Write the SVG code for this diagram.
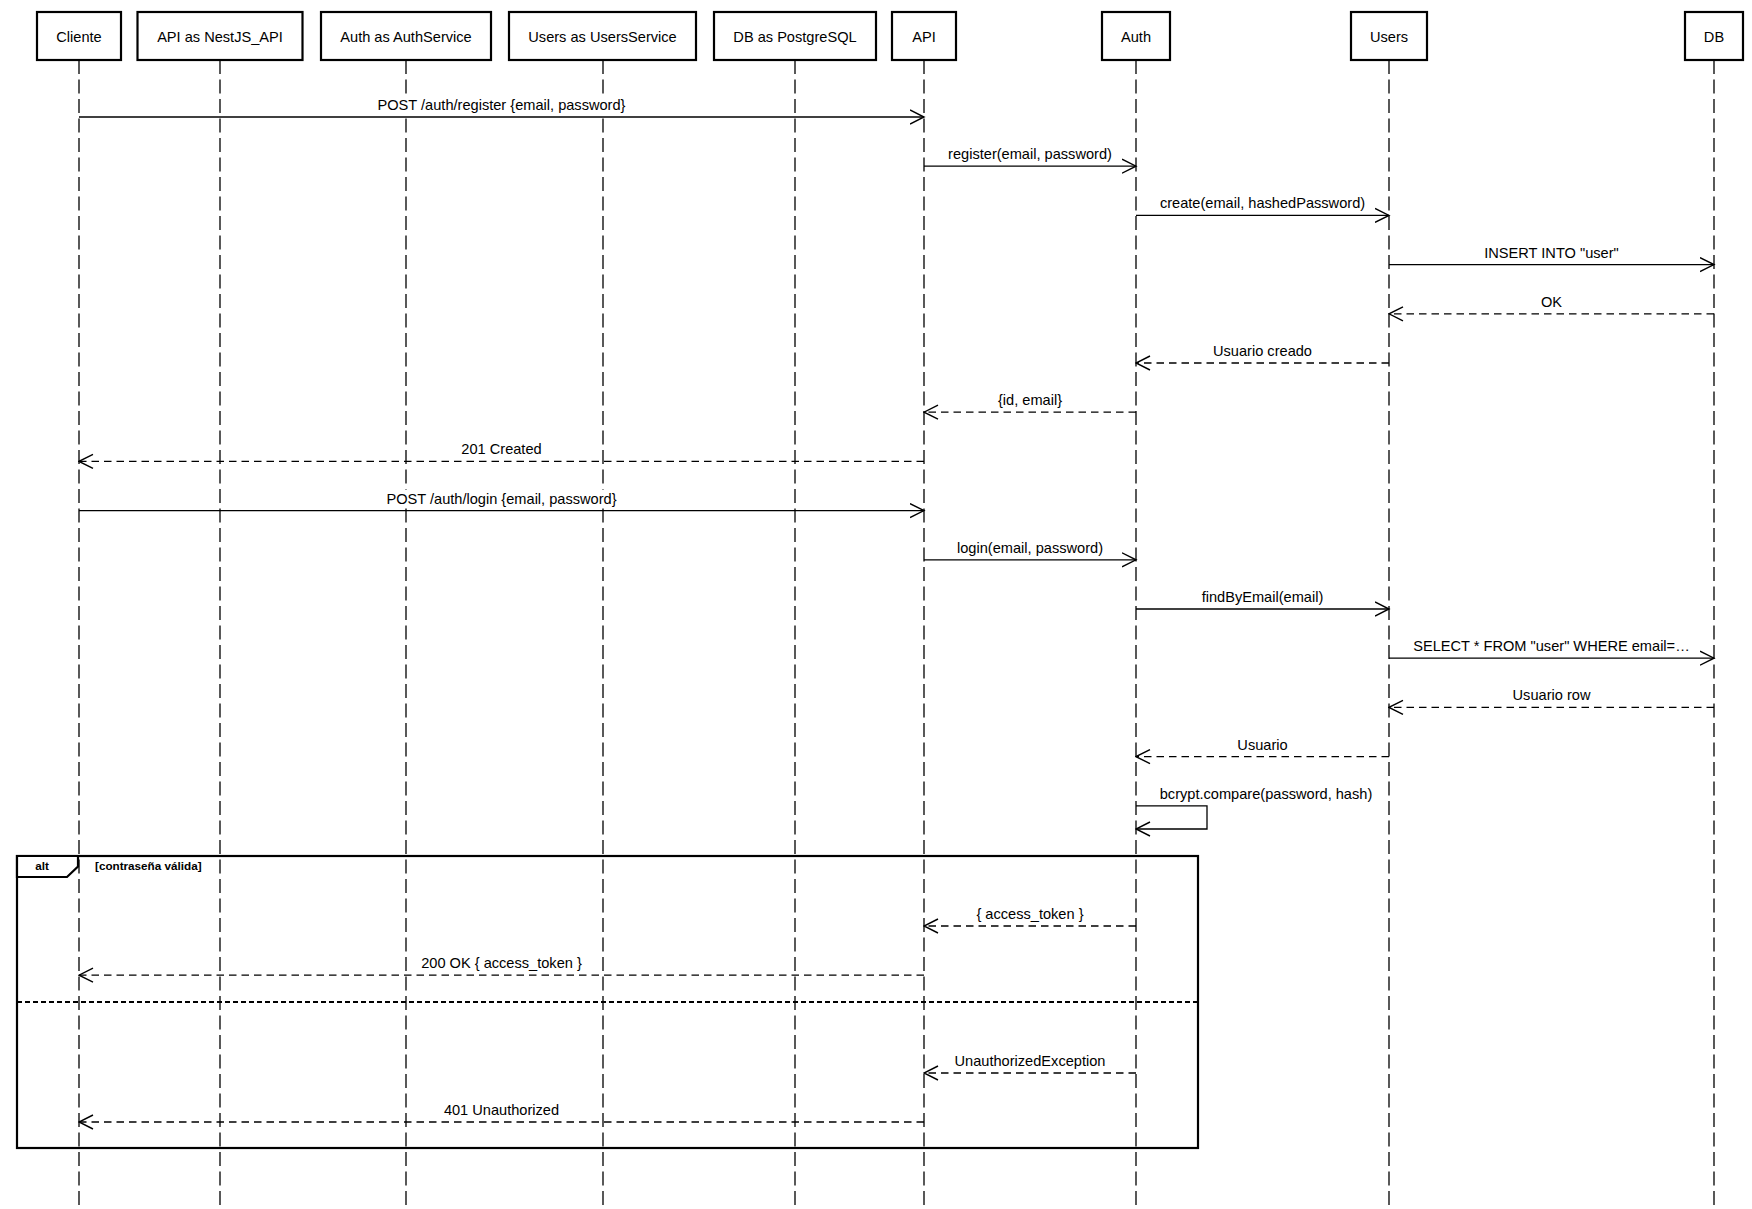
<svg xmlns="http://www.w3.org/2000/svg" width="1752" height="1209" viewBox="0 0 1752 1209">
<style>
  text { font-family: "Liberation Sans", Arial, Helvetica, sans-serif; font-size: 14.6px; fill: #000; }
  .box { fill: #fff; stroke: #000; stroke-width: 2.2; }
  .life { stroke: #000; stroke-width: 1.3; stroke-dasharray: 14 5.5; fill: none; }
  .msg { stroke: #000; stroke-width: 1.3; fill: none; marker-end: url(#open); }
  .ret { stroke: #000; stroke-width: 1.3; fill: none; stroke-dasharray: 7.5 5; marker-end: url(#open); }
  .lbg { fill: #fff; }
  .lbl { text-anchor: middle; }
  .hdr { text-anchor: middle; }
  .frame { fill: none; stroke: #000; stroke-width: 2.2; }
  .tab { fill: #fff; stroke: #000; stroke-width: 2.2; }
  .div { stroke: #000; stroke-width: 2; stroke-dasharray: 5 3; }
  .ftxt { font-size: 11.7px; font-weight: bold; }
</style>
<defs>
  <marker id="open" viewBox="0 0 16 16" refX="14.5" refY="8" markerWidth="16" markerHeight="16" markerUnits="userSpaceOnUse" orient="auto">
    <path d="M0.5,1 L14.5,8 L0.5,15" fill="none" stroke="#000" stroke-width="1.4"/>
  </marker>
</defs>
<rect x="0" y="0" width="1752" height="1209" fill="#fff"/>

<g id="participants">
  <g id="p-cliente">
    <line class="life" x1="79" y1="60" x2="79" y2="1209"/>
    <rect class="box" x="37" y="12" width="84" height="48"/>
    <text class="hdr" x="79" y="41.5">Cliente</text>
  </g>
  <g id="p-api-nestjs">
    <line class="life" x1="220" y1="60" x2="220" y2="1209"/>
    <rect class="box" x="137.5" y="12" width="165" height="48"/>
    <text class="hdr" x="220" y="41.5">API as NestJS_API</text>
  </g>
  <g id="p-auth-service">
    <line class="life" x1="406" y1="60" x2="406" y2="1209"/>
    <rect class="box" x="321" y="12" width="170" height="48"/>
    <text class="hdr" x="406" y="41.5">Auth as AuthService</text>
  </g>
  <g id="p-users-service">
    <line class="life" x1="603" y1="60" x2="603" y2="1209"/>
    <rect class="box" x="509" y="12" width="187" height="48"/>
    <text class="hdr" x="602.5" y="41.5">Users as UsersService</text>
  </g>
  <g id="p-db-postgres">
    <line class="life" x1="795" y1="60" x2="795" y2="1209"/>
    <rect class="box" x="714" y="12" width="162" height="48"/>
    <text class="hdr" x="795" y="41.5">DB as PostgreSQL</text>
  </g>
  <g id="p-api">
    <line class="life" x1="924" y1="60" x2="924" y2="1209"/>
    <rect class="box" x="892" y="12" width="64" height="48"/>
    <text class="hdr" x="924" y="41.5">API</text>
  </g>
  <g id="p-auth">
    <line class="life" x1="1136" y1="60" x2="1136" y2="1209"/>
    <rect class="box" x="1102" y="12" width="68" height="48"/>
    <text class="hdr" x="1136" y="41.5">Auth</text>
  </g>
  <g id="p-users">
    <line class="life" x1="1389" y1="60" x2="1389" y2="1209"/>
    <rect class="box" x="1351" y="12" width="76" height="48"/>
    <text class="hdr" x="1389" y="41.5">Users</text>
  </g>
  <g id="p-db">
    <line class="life" x1="1714" y1="60" x2="1714" y2="1209"/>
    <rect class="box" x="1685" y="12" width="58" height="48"/>
    <text class="hdr" x="1714" y="41.5">DB</text>
  </g>
</g>

<g id="alt-frame">
  <rect class="frame" x="17" y="856" width="1181" height="292"/>
  <path class="tab" d="M17,856 H78 V866.5 L67,877 H17 Z"/>
  <text class="ftxt" x="42" y="870" text-anchor="middle">alt</text>
  <text class="ftxt" x="95" y="870">[contraseña válida]</text>
  <line class="div" x1="17" y1="1002" x2="1198" y2="1002"/>
</g>

<g id="connectors">
  <!-- label backgrounds -->
  <rect class="lbg" x="375.4" y="96" width="252.3" height="17"/>
  <rect class="lbg" x="946" y="145.2" width="168" height="17"/>
  <rect class="lbg" x="1157.8" y="194.4" width="209.3" height="17"/>
  <rect class="lbg" x="1481.8" y="243.6" width="139.3" height="17"/>
  <rect class="lbg" x="1539" y="292.8" width="25" height="17"/>
  <rect class="lbg" x="1211" y="342" width="103" height="17"/>
  <rect class="lbg" x="996" y="391.2" width="68" height="17"/>
  <rect class="lbg" x="459.3" y="440.4" width="84.3" height="17"/>
  <rect class="lbg" x="384.2" y="489.6" width="234.5" height="17"/>
  <rect class="lbg" x="955" y="538.8" width="150" height="17"/>
  <rect class="lbg" x="1199.6" y="588" width="125.7" height="17"/>
  <rect class="lbg" x="1411" y="637.2" width="281" height="17"/>
  <rect class="lbg" x="1510.5" y="686.4" width="82" height="17"/>
  <rect class="lbg" x="1235.3" y="735.6" width="54.3" height="17"/>
  <rect class="lbg" x="1157.7" y="784.8" width="216.6" height="17"/>
  <rect class="lbg" x="974.5" y="905" width="111" height="17"/>
  <rect class="lbg" x="419.2" y="954.2" width="164.7" height="17"/>
  <rect class="lbg" x="952.6" y="1052" width="154.9" height="17"/>
  <rect class="lbg" x="442" y="1101" width="119" height="17"/>

  <!-- register flow -->
  <path id="m1" class="msg" d="M79,117 H924"/>
  <text class="lbl" x="501.5" y="110">POST /auth/register {email, password}</text>
  <path id="m2" class="msg" d="M924,166.2 H1136"/>
  <text class="lbl" x="1030" y="159.2">register(email, password)</text>
  <path id="m3" class="msg" d="M1136,215.4 H1389"/>
  <text class="lbl" x="1262.5" y="208.4">create(email, hashedPassword)</text>
  <path id="m4" class="msg" d="M1389,264.6 H1714"/>
  <text class="lbl" x="1551.5" y="257.6">INSERT INTO "user"</text>
  <path id="m5" class="ret" d="M1714,313.8 H1389"/>
  <text class="lbl" x="1551.5" y="306.8">OK</text>
  <path id="m6" class="ret" d="M1389,363 H1136"/>
  <text class="lbl" x="1262.5" y="356">Usuario creado</text>
  <path id="m7" class="ret" d="M1136,412.2 H924"/>
  <text class="lbl" x="1030" y="405.2">{id, email}</text>
  <path id="m8" class="ret" d="M924,461.4 H79"/>
  <text class="lbl" x="501.5" y="454.4">201 Created</text>

  <!-- login flow -->
  <path id="m9" class="msg" d="M79,510.6 H924"/>
  <text class="lbl" x="501.5" y="503.6">POST /auth/login {email, password}</text>
  <path id="m10" class="msg" d="M924,559.8 H1136"/>
  <text class="lbl" x="1030" y="552.8">login(email, password)</text>
  <path id="m11" class="msg" d="M1136,609 H1389"/>
  <text class="lbl" x="1262.5" y="602">findByEmail(email)</text>
  <path id="m12" class="msg" d="M1389,658.2 H1714"/>
  <text class="lbl" x="1551.5" y="651.2">SELECT * FROM "user" WHERE email=…</text>
  <path id="m13" class="ret" d="M1714,707.4 H1389"/>
  <text class="lbl" x="1551.5" y="700.4">Usuario row</text>
  <path id="m14" class="ret" d="M1389,756.6 H1136"/>
  <text class="lbl" x="1262.5" y="749.6">Usuario</text>
  <path id="m15" class="msg" d="M1136,805.8 H1207 V829 H1136"/>
  <text class="lbl" x="1266" y="798.8">bcrypt.compare(password, hash)</text>

  <!-- alt branches -->
  <path id="m16" class="ret" d="M1136,926 H924"/>
  <text class="lbl" x="1030" y="919">{ access_token }</text>
  <path id="m17" class="ret" d="M924,975.2 H79"/>
  <text class="lbl" x="501.5" y="968.2">200 OK { access_token }</text>
  <path id="m18" class="ret" d="M1136,1073 H924"/>
  <text class="lbl" x="1030" y="1066">UnauthorizedException</text>
  <path id="m19" class="ret" d="M924,1122 H79"/>
  <text class="lbl" x="501.5" y="1115">401 Unauthorized</text>
</g>
</svg>
